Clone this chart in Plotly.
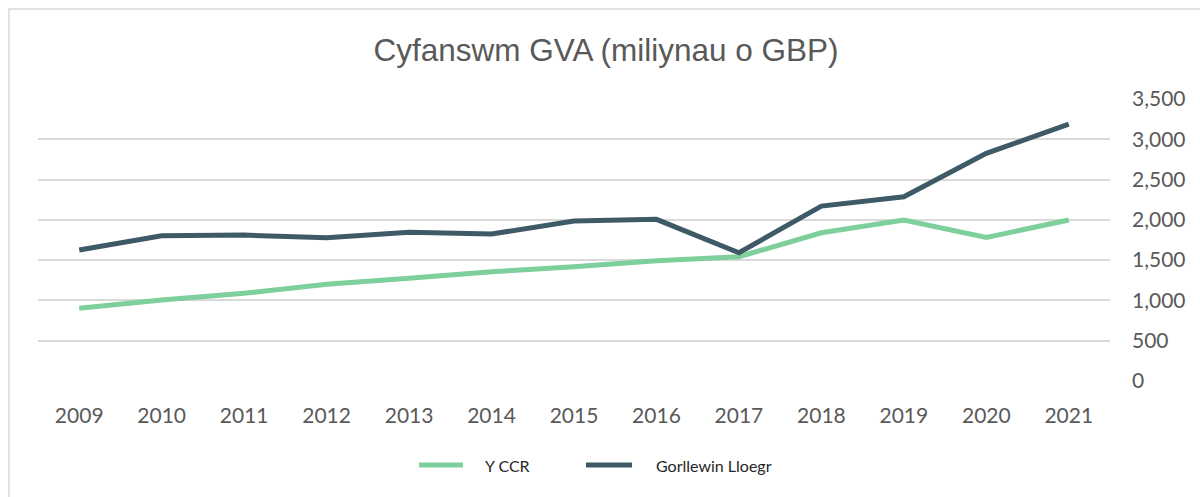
import plotly.graph_objects as go

years = ["2009", "2010", "2011", "2012", "2013", "2014", "2015", "2016", "2017", "2018", "2019", "2020", "2021"]
ccr = [902, 1005, 1088, 1200, 1274, 1356, 1418, 1493, 1542, 1840, 1998, 1783, 1998]
gorllewin = [1625, 1803, 1811, 1778, 1845, 1824, 1985, 2006, 1592, 2171, 2287, 2825, 3189]
y_ticks = [0, 500, 1000, 1500, 2000, 2500, 3000, 3500]
series_names = ["Y CCR", "Gorllewin Lloegr"]
series_colors = ["#7dcf9c", "#3e5a67"]

W, H = 1200, 497
L, R, T, B = 38, 90, 99, 116
pw, ph = W - L - R, H - T - B

def px_to_paper_x(px):
    return (px - L) / pw

def px_to_paper_y(py):
    return (H - B - py) / ph

fig = go.Figure()
for name, vals, col in zip(series_names, [ccr, gorllewin], series_colors):
    fig.add_trace(go.Scatter(x=years, y=vals, name=name, mode="lines",
                             line=dict(color=col, width=5), showlegend=False))

# legend drawn manually (longer samples than plotly's default)
legend_font = dict(family="Lato, Open Sans, sans-serif", size=16, color="#262626")
leg_y = px_to_paper_y(465)
samples = [(417, 465, 483), (584, 634, 654)]
shapes = []
annotations = []
for (x0, x1, tx), name, col in zip(samples, series_names, series_colors):
    shapes.append(dict(type="line", xref="paper", yref="paper",
                       x0=px_to_paper_x(x0 + 2), x1=px_to_paper_x(x1 - 2), y0=leg_y, y1=leg_y,
                       line=dict(color=col, width=5)))
    annotations.append(dict(text=name, xref="paper", yref="paper", x=px_to_paper_x(tx), y=leg_y,
                            xanchor="left", yanchor="middle", showarrow=False, font=legend_font))

shapes.append(dict(type="rect", xref="paper", yref="paper",
                   x0=px_to_paper_x(9), x1=px_to_paper_x(1260), y0=px_to_paper_y(560), y1=px_to_paper_y(9),
                   line=dict(color="#d9d9d9", width=1.5), fillcolor="rgba(0,0,0,0)", layer="below"))

tick_font = dict(family="Lato, Open Sans, sans-serif", size=21, color="#595959")

fig.update_layout(
    width=W, height=H,
    margin=dict(l=L, r=R, t=T, b=B),
    paper_bgcolor="white", plot_bgcolor="white",
    title=dict(text="Cyfanswm GVA (miliynau o GBP)", x=px_to_paper_x(606), xref="paper", xanchor="center",
               y=1 - 50 / H, yanchor="middle",
               font=dict(family="Liberation Sans, Arial, sans-serif", size=31.5, color="#595959")),
    xaxis=dict(type="category", range=[-0.5, 12.5], showgrid=False, showline=False, zeroline=False,
               ticks="", tickfont=tick_font, ticklabelstandoff=20),
    yaxis=dict(side="right", range=[0, 3500], tickvals=y_ticks, tickformat=",",
               showgrid=True, gridcolor="#d9d9d9", gridwidth=1.5, zeroline=False, showline=False,
               tickfont=tick_font, ticklabelstandoff=21),
    showlegend=False,
    shapes=shapes,
    annotations=annotations,
)

fig.write_html("out.html", config={"displayModeBar": False},
               post_script="document.body.style.margin='0';document.body.style.padding='0';")
